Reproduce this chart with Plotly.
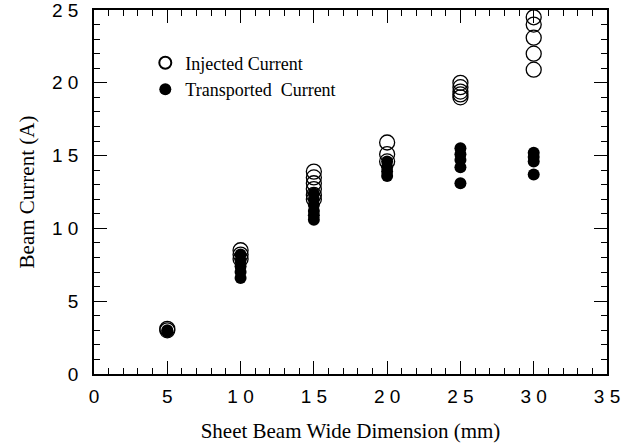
import plotly.graph_objects as go

# Sheet beam wide dimension (mm) for each measured point
inj_x = [5, 5,
         10, 10, 10,
         15, 15, 15, 15, 15, 15,
         20, 20, 20,
         25, 25, 25, 25, 25,
         30, 30, 30, 30, 30]
inj_y = [3.0, 3.1,
         7.9, 8.2, 8.5,
         12.0, 12.3, 12.7, 13.1, 13.5, 13.9,
         14.6, 15.1, 15.9,
         19.0, 19.2, 19.4, 19.7, 20.0,
         20.9, 22.0, 23.1, 24.0, 24.5]

tr_x = [5, 5,
        10, 10, 10, 10, 10,
        15, 15, 15, 15, 15, 15,
        20, 20, 20, 20,
        25, 25, 25, 25, 25,
        30, 30, 30, 30]
tr_y = [2.9, 3.0,
        6.6, 7.0, 7.4, 7.8, 8.2,
        10.6, 10.9, 11.2, 11.6, 12.0, 12.4,
        13.6, 13.9, 14.2, 14.6,
        13.1, 14.2, 14.7, 15.1, 15.5,
        13.7, 14.6, 14.9, 15.2]

x_tickvals = [0, 5, 10, 15, 20, 25, 30, 35]
x_ticktext = ["0", "5", "1 0", "1 5", "2 0", "2 5", "3 0", "3 5"]
y_tickvals = [0, 5, 10, 15, 20, 25]
y_ticktext = ["0", "5", "1 0", "1 5", "2 0", "2 5"]

serif = "Liberation Serif, Times New Roman, serif"
sans = "Liberation Sans, Arial, sans-serif"

fig = go.Figure()
fig.add_trace(go.Scatter(
    x=inj_x, y=inj_y, mode="markers", name="Injected Current",
    marker=dict(symbol="circle-open", size=15, color="black", line=dict(width=1.3, color="black")),
))
fig.add_trace(go.Scatter(
    x=tr_x, y=tr_y, mode="markers", name="Transported  Current",
    marker=dict(symbol="circle", size=12, color="black"),
))

axis_common = dict(
    showgrid=False, zeroline=False, showline=True, linecolor="black", linewidth=1.5,
    mirror="allticks", ticks="inside", ticklen=13, tickwidth=1.2, tickcolor="black",
    tickfont=dict(family=sans, size=19, color="black"),
    ticklabeloverflow="allow", automargin=False,
)
fig.update_xaxes(
    range=[0, 35], tickvals=x_tickvals, ticktext=x_ticktext,
    minor=dict(ticks="inside", dtick=1, ticklen=6, tickwidth=1, tickcolor="black"),
    title=dict(text="Sheet Beam Wide Dimension (mm)", font=dict(family=serif, size=21, color="black"), standoff=18),
    ticklabelstandoff=4,
    **axis_common,
)
fig.update_yaxes(
    range=[0, 25], tickvals=y_tickvals, ticktext=y_ticktext,
    minor=dict(ticks="inside", dtick=1, ticklen=6, tickwidth=1, tickcolor="black"),
    title=dict(text="Beam Current (A)", font=dict(family=serif, size=21, color="black"), standoff=12),
    ticklabelstandoff=10,
    **axis_common,
)
fig.update_layout(
    width=631, height=447,
    margin=dict(l=94, r=24, t=10, b=73),
    paper_bgcolor="white", plot_bgcolor="white",
    showlegend=True,
    legend=dict(x=0.1, y=0.905, xanchor="left", yanchor="top", bgcolor="rgba(0,0,0,0)",
                font=dict(family=serif, size=18, color="black"), itemsizing="constant"),
)
fig.write_html("out.html")
